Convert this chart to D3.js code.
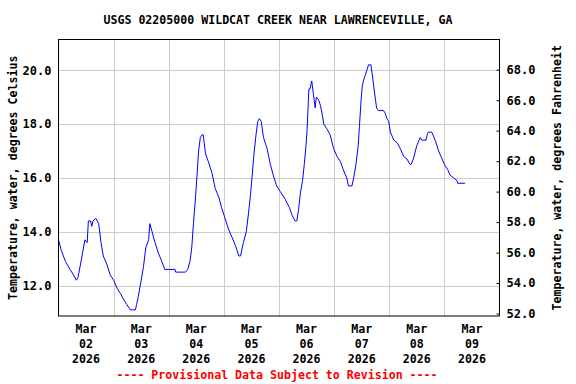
<!DOCTYPE html>
<html>
<head>
<meta charset="utf-8">
<script src="https://cdn.jsdelivr.net/npm/d3@7"></script>
<style>
  html, body { margin: 0; padding: 0; background: #fff; }
  svg text { font-family: "DejaVu Sans Mono", monospace; font-weight: bold; }
</style>
</head>
<body>
<div id="chart"></div>
<script>
// hours after 2026-03-02 00:00, and water temperature in degrees C
const hours = [0, 1.25, 3, 5, 6.5, 7.75, 8.5, 10.25, 11.5, 12.5, 13, 14, 14.5, 15, 16.25, 17.5, 18.5, 19.5, 21, 22.5,
  24, 25.5, 27, 28.25, 29.75, 31.25, 33.5, 34, 34.75, 36, 37, 38, 39.25, 39.75, 40.75, 42, 43.5, 45, 46.25, 50.75,
  51, 55.25, 56.25, 57.25, 58, 58.75, 59.5, 60.25, 61, 61.75, 62.5, 63, 64, 65.25, 66.75, 68.25, 69.75, 71, 72.5, 74,
  75.5, 77, 78.5, 79.25, 80.5, 81.75, 82.75, 83.5, 84.25, 85, 86, 86.75, 87.5, 88.25, 89.25, 90.75, 92.25, 93.5, 95, 96.5,
  98.75, 100.5, 101.75, 103, 103.75, 104.5, 105.25, 106.25, 107, 107.75, 108.25, 108.75, 109, 109.5, 110.25, 111, 111.75, 112.25, 113.25, 114,
  114.75, 115.5, 117, 118.25, 119.75, 121.25, 122.75, 124, 125.5, 126.25, 127.75, 128.5, 129.5, 130.5, 131, 131.75, 132.25, 132.75, 133.5, 134.25,
  135, 136, 136.5, 137.25, 138, 138.5, 139.25, 141.5, 142.25, 143, 143.75, 144.5, 146, 147.5, 148.75, 150.25, 151.75, 153, 153.5, 154.5,
  156, 157.5, 158.25, 160, 160.5, 161, 162.5, 164, 165.5, 166.5, 168, 169.5, 170.5, 172, 173.5, 173.75, 177];
const temps = [13.7, 13.3, 12.9, 12.6, 12.4, 12.2, 12.3, 13.1, 13.7, 13.6, 14.4, 14.4, 14.2, 14.4, 14.5, 14.3, 13.6, 13.1, 12.8, 12.4,
  12.2, 11.9, 11.7, 11.5, 11.3, 11.1, 11.1, 11.3, 11.6, 12.2, 12.7, 13.4, 13.7, 14.3, 14.0, 13.6, 13.2, 12.9, 12.6, 12.6,
  12.5, 12.5, 12.6, 12.9, 13.4, 14.3, 15.1, 16.0, 17.0, 17.5, 17.6, 17.6, 16.9, 16.6, 16.2, 15.6, 15.3, 14.9, 14.5, 14.1,
  13.8, 13.5, 13.1, 13.1, 13.6, 14.0, 14.7, 15.3, 16.0, 16.8, 17.6, 18.1, 18.2, 18.1, 17.5, 17.1, 16.5, 16.1, 15.7, 15.5,
  15.2, 14.9, 14.6, 14.4, 14.4, 14.8, 15.4, 15.9, 16.5, 17.2, 17.8, 18.8, 19.3, 19.3, 19.6, 19.1, 18.6, 19.0, 18.9, 18.7,
  18.4, 18.0, 17.8, 17.6, 17.1, 16.8, 16.6, 16.3, 16.0, 15.7, 15.7, 16.0, 16.5, 17.2, 17.9, 18.9, 19.4, 19.6, 19.8, 20.0,
  20.2, 20.2, 19.9, 19.4, 18.9, 18.6, 18.5, 18.5, 18.4, 18.2, 18.1, 17.7, 17.4, 17.3, 17.1, 16.8, 16.7, 16.5, 16.5, 16.7,
  17.2, 17.5, 17.4, 17.4, 17.6, 17.7, 17.7, 17.4, 17.0, 16.8, 16.5, 16.3, 16.1, 16.0, 15.9, 15.8, 15.8];

const dayLabels = ["02", "03", "04", "05", "06", "07", "08", "09"];
const celsiusTicks = [12, 14, 16, 18, 20];
const fahrenheitTicks = [52, 54, 56, 58, 60, 62, 64, 66, 68];

const title = "USGS 02205000 WILDCAT CREEK NEAR LAWRENCEVILLE, GA";
const leftLabel = "Temperature, water, degrees Celsius";
const rightLabel = "Temperature, water, degrees Fahrenheit";
const footer = "---- Provisional Data Subject to Revision ----";

const width = 576, height = 384;
const margin = { top: 39.5, right: 76.5, bottom: 68, left: 58.5 };

const start = Date.UTC(2026, 2, 2);
const data = hours.map((h, i) => ({ t: new Date(start + h * 3600e3), v: temps[i] }));

const svg = d3.select("#chart").append("svg")
  .attr("width", width)
  .attr("height", height);

const x = d3.scaleUtc()
  .domain([new Date(start), new Date(Date.UTC(2026, 2, 10))])
  .range([margin.left, width - margin.right]);

const y = d3.scaleLinear()
  .domain([10.87, 21.14])
  .range([height - margin.bottom, margin.top]);

const yF = d3.scaleLinear()
  .domain([51.84, 69.98])
  .range([height - margin.bottom, margin.top]);

// grid
const days = d3.utcDay.range(x.domain()[0], x.domain()[1]).slice(1);
svg.append("g")
  .selectAll("line")
  .data(days)
  .join("line")
  .attr("x1", d => Math.round(x(d)) + 0.5)
  .attr("x2", d => Math.round(x(d)) + 0.5)
  .attr("y1", margin.top)
  .attr("y2", height - margin.bottom)
  .attr("stroke", "#cccccc");

svg.append("g")
  .selectAll("line")
  .data(celsiusTicks)
  .join("line")
  .attr("x1", margin.left)
  .attr("x2", width - margin.right)
  .attr("y1", d => Math.round(y(d)) + 0.5)
  .attr("y2", d => Math.round(y(d)) + 0.5)
  .attr("stroke", "#cccccc");

// the series
const line = d3.line()
  .x(d => x(d.t))
  .y(d => y(d.v));

svg.append("path")
  .datum(data)
  .attr("fill", "none")
  .attr("stroke", "#0000ff")
  .attr("stroke-width", 1)
  .attr("d", line);

// frame
svg.append("rect")
  .attr("x", margin.left)
  .attr("y", margin.top)
  .attr("width", width - margin.right - margin.left)
  .attr("height", height - margin.bottom - margin.top)
  .attr("fill", "none")
  .attr("stroke", "#000");

// left axis
svg.append("g")
  .attr("transform", `translate(${margin.left},0)`)
  .call(d3.axisLeft(y).tickValues(celsiusTicks).tickFormat(d3.format(".1f")).tickSize(0).tickPadding(7))
  .call(g => g.select(".domain").remove())
  .selectAll("text")
  .attr("font-size", 12)
  .attr("fill", "#000");

// right axis
svg.append("g")
  .attr("transform", `translate(${width - margin.right},0)`)
  .call(d3.axisRight(yF).tickValues(fahrenheitTicks).tickFormat(d3.format(".1f")).tickSizeInner(-3).tickSizeOuter(0).tickPadding(7))
  .call(g => g.select(".domain").remove())
  .call(g => g.selectAll("line").attr("stroke", "#000"))
  .selectAll("text")
  .attr("font-size", 12)
  .attr("fill", "#000");

// day labels, centered on each day
const xl = svg.append("g").attr("font-size", 11.6).attr("text-anchor", "middle");
dayLabels.forEach((d, i) => {
  const cx = x(new Date(start + (i + 0.5) * 864e5));
  ["Mar", d, "2026"].forEach((s, j) => {
    xl.append("text")
      .attr("x", cx)
      .attr("y", 333 + j * 15)
      .text(s);
  });
});

svg.append("text")
  .attr("x", 278)
  .attr("y", 24)
  .attr("text-anchor", "middle")
  .attr("font-size", 11.6)
  .text(title);

svg.append("text")
  .attr("transform", `translate(17,${(margin.top + height - margin.bottom) / 2}) rotate(-90)`)
  .attr("text-anchor", "middle")
  .attr("font-size", 11.6)
  .text(leftLabel);

svg.append("text")
  .attr("transform", `translate(561,${(margin.top + height - margin.bottom) / 2}) rotate(-90)`)
  .attr("text-anchor", "middle")
  .attr("font-size", 11.6)
  .text(rightLabel);

svg.append("text")
  .attr("x", 277)
  .attr("y", 379)
  .attr("text-anchor", "middle")
  .attr("font-size", 11.6)
  .attr("fill", "#ff0000")
  .text(footer);
</script>
</body>
</html>
